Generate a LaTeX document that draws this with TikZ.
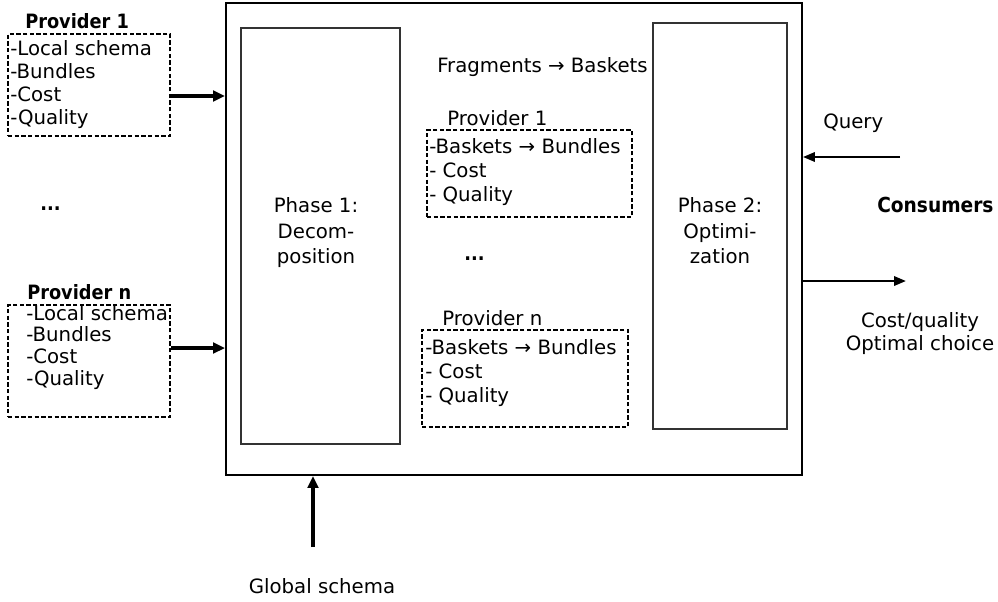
\documentclass[tikz,border=0pt]{standalone}
\usepackage{fontspec}
\setmainfont{DejaVu Sans}
\newfontfamily\condsans{DejaVu Sans Condensed}
\usetikzlibrary{arrows.meta,fit}
\begin{document}
\begin{tikzpicture}[x=0.75pt,y=-0.75pt,
  txt/.style={font=\fontsize{14.8}{17}\selectfont, inner sep=0, anchor=base west},
  ctxt/.style={txt, anchor=base},
  btxt/.style={txt, font=\fontsize{14.8}{17}\selectfont\condsans\bfseries},
  mainbox/.style={draw, line width=1.4pt, inner sep=0},
  phasebox/.style={draw=black!80, line width=1.4pt, inner sep=0},
  dbox/.style={draw, dash pattern=on 3.2pt off 1.8pt, line width=1.8pt, inner sep=0},
  mdbox/.style={draw, dash pattern=on 3.2pt off 1.8pt, line width=1.3pt, inner sep=0},
  arrthick/.style={line width=2.8pt, -{Triangle[length=9pt,width=8pt]}},
  arrthin/.style={line width=1.8pt, -{Triangle[length=9pt,width=7pt]}}]
\useasboundingbox (0,0) rectangle (998,601);

% frames
\node[mainbox, fit={(226,3) (802,475)}] (main) {};
\node[phasebox, fit={(241,28) (400,444)}] (ph1) {};
\node[phasebox, fit={(653,23) (787,429)}] (ph2) {};

% phase labels
\node[ctxt] (ph1a) at (316,212) {Phase 1:};
\node[ctxt] (ph1b) at (316,238) {Decom-};
\node[ctxt] (ph1c) at (316,263) {position};
\node[ctxt] (ph2a) at (720,212) {Phase 2:};
\node[ctxt] (ph2b) at (720,238) {Optimi-};
\node[ctxt] (ph2c) at (720,263) {zation};

% providers on the left
\node[dbox, fit={(8,34) (170,136)}] (lp1) {};
\node[btxt] (lp1t) at (25,28) {Provider 1};
\foreach \t [count=\i] in {-Local schema,-Bundles,-Cost,-Quality}
  \node[txt] (lp1l\i) at (10,{55+(\i-1)*23.3}) {\t};

\node[btxt] (ldots) at (40,210) {...};

\node[dbox, fit={(8,305) (170,417)}] (lpn) {};
\node[btxt] (lpnt) at (27,299) {Provider n};
\foreach \t [count=\i] in {-Local schema,-Bundles,-Cost,-Quality}
  \node[txt] (lpnl\i) at (26,{320+(\i-1)*21.7}) {\t};

% baskets inside the mediator
\node[txt] (frag) at (437,72) {Fragments → Baskets};

\node[mdbox, fit={(427,130) (632,217)}] (mp1) {};
\node[txt] (mp1t) at (447,125) {Provider 1};
\foreach \t [count=\i] in {-Baskets → Bundles,- Cost,- Quality}
  \node[txt] (mp1l\i) at (429,{153+(\i-1)*24}) {\t};

\node[btxt] (mdots) at (464,260) {...};

\node[mdbox, fit={(422,330) (628,427)}] (mpn) {};
\node[txt] (mpnt) at (442,325) {Provider n};
\foreach \t [count=\i] in {-Baskets → Bundles,- Cost,- Quality}
  \node[txt] (mpnl\i) at (425,{354+(\i-1)*24}) {\t};

% consumers
\node[btxt, font=\fontsize{15.5}{17}\selectfont\condsans\bfseries] (cons) at (877,212) {Consumers};
\node[txt] (query) at (823,128) {Query};
\node[ctxt] (res1) at (920,327) {Cost/quality};
\node[ctxt] (res2) at (920,350) {Optimal choice};
\node[ctxt] (glob) at (322,593) {Global schema};

% connectors
\draw[arrthick] ([yshift=-8.25pt]lp1.east) -- ([yshift=-8.25pt]lp1.east -| main.west);
\draw[arrthick] ([yshift=9.75pt]lpn.east) -- ([yshift=9.75pt]lpn.east -| main.west);
\coordinate (qsrc) at (900,157);
\draw[arrthin] (qsrc) -- (qsrc -| main.east);
\coordinate (outdst) at (906,281);
\draw[arrthin] (outdst -| main.east) -- (outdst);
\coordinate (gsrc) at (313,547);
\draw[arrthick] (gsrc) -- (gsrc |- main.south);
\end{tikzpicture}
\end{document}
